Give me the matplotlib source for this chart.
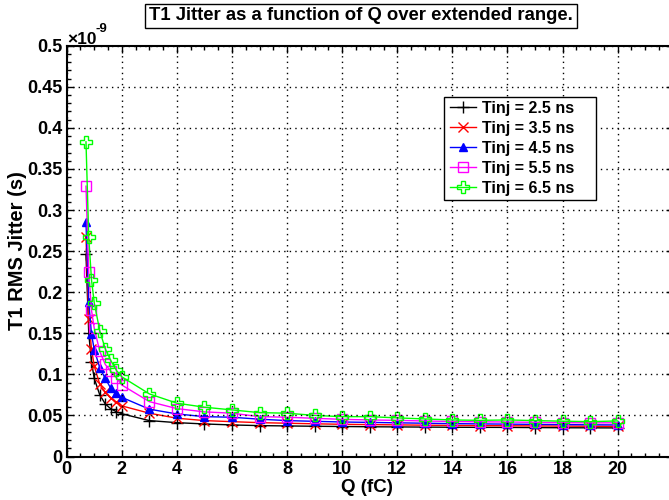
import matplotlib
matplotlib.use("Agg")
import matplotlib.pyplot as plt
from matplotlib.ticker import MultipleLocator, FuncFormatter
from matplotlib.patches import Rectangle

plt.rcParams['font.family'] = ['Liberation Sans', 'DejaVu Sans']
plt.rcParams['font.weight'] = 'bold'

# Charge values (fC)
q = [0.7, 0.8, 0.9, 1.0, 1.2, 1.4, 1.6, 1.8, 2.0,
     3, 4, 5, 6, 7, 8, 9, 10, 11, 12, 13, 14, 15, 16, 17, 18, 19, 20]

# RMS jitter values in units of 1e-9 s
jit_25 = [0.246, 0.150, 0.115, 0.095, 0.075, 0.064, 0.058, 0.0546, 0.052,
          0.0437, 0.0412, 0.0396, 0.0384, 0.0376, 0.0372, 0.0368, 0.0365, 0.0362,
          0.0360, 0.0358, 0.0356, 0.0355, 0.0354, 0.0352, 0.0350, 0.0349, 0.0348]
jit_35 = [0.267, 0.167, 0.131, 0.110, 0.088, 0.078, 0.071, 0.066, 0.0616,
          0.0527, 0.0466, 0.0437, 0.0424, 0.0412, 0.0405, 0.0398, 0.0392, 0.0388,
          0.0385, 0.0381, 0.0378, 0.0376, 0.0374, 0.0372, 0.0370, 0.0368, 0.0366]
jit_45 = [0.285, 0.188, 0.149, 0.130, 0.108, 0.095, 0.083, 0.077, 0.072,
          0.0576, 0.0518, 0.0485, 0.0478, 0.0454, 0.0437, 0.0428, 0.0420, 0.0415,
          0.0410, 0.0405, 0.0400, 0.0397, 0.0394, 0.0391, 0.0388, 0.0386, 0.0384]
jit_55 = [0.329, 0.224, 0.178, 0.156, 0.128, 0.112, 0.104, 0.096, 0.087,
          0.0668, 0.0583, 0.0543, 0.0527, 0.0485, 0.0478, 0.0465, 0.0452, 0.0445,
          0.0440, 0.0432, 0.0426, 0.0422, 0.0420, 0.0416, 0.0412, 0.0410, 0.0410]
jit_65 = [0.383, 0.267, 0.215, 0.187, 0.153, 0.131, 0.117, 0.105, 0.097,
          0.0762, 0.0649, 0.0600, 0.0567, 0.0534, 0.0527, 0.0500, 0.0485, 0.0485,
          0.0470, 0.0457, 0.0445, 0.0440, 0.0445, 0.0437, 0.0430, 0.0424, 0.0433]

labels = ['Tinj = 2.5 ns', 'Tinj = 3.5 ns', 'Tinj = 4.5 ns', 'Tinj = 5.5 ns', 'Tinj = 6.5 ns']
series = [jit_25, jit_35, jit_45, jit_55, jit_65]
colors = ['#000000', '#ff0000', '#0000ff', '#ff00ff', '#00ff00']
markers = ['+', 'x', '^', 's', 'P']
mfc = ['#000000', '#ff0000', '#0000ff', 'none', 'none']
msizes = [8, 7, 6, 7, 8]

xticks = [0, 2, 4, 6, 8, 10, 12, 14, 16, 18, 20]
yticks = [0, 0.05, 0.1, 0.15, 0.2, 0.25, 0.3, 0.35, 0.4, 0.45, 0.5]

W, H = 669, 500
fig = plt.figure(figsize=(W / 100, H / 100), dpi=100)
ax = fig.add_axes([66.7 / W, 1 - 456.5 / H, (672.8 - 66.7) / W, (456.5 - 45.7) / H])

for y, lab, c, m, fc, ms in zip(series, labels, colors, markers, mfc, msizes):
    ax.plot(q, y, color=c, marker=m, markerfacecolor=fc, markeredgecolor=c,
            markersize=ms, markeredgewidth=1.0, linewidth=1.0, label=lab)

ax.set_xlim(0, 22)
ax.set_ylim(0, 0.5)
ax.set_xticks(xticks)
ax.set_yticks(yticks)
ax.xaxis.set_minor_locator(MultipleLocator(0.5))
ax.yaxis.set_minor_locator(MultipleLocator(0.01))
ax.yaxis.set_major_formatter(FuncFormatter(lambda v, p: '%g' % v))
ax.tick_params(which='both', direction='in', top=True, right=True, width=1.0)
ax.tick_params(which='major', length=5, labelsize=13, pad=3)
ax.tick_params(which='minor', length=3)
for lbl in ax.get_xticklabels() + ax.get_yticklabels():
    lbl.set_fontweight('bold')
for s in ax.spines.values():
    s.set_linewidth(1.5)
ax.grid(True, which='major', color='black', linestyle=(0, (1, 3)), linewidth=1.0)
ax.set_axisbelow(False)

# legend frame drawn as a rectangle in figure pixels
frame = Rectangle((444 / W, 1 - 200 / H), (596 - 444) / W, (200 - 97) / H,
                  transform=fig.transFigure, facecolor='white',
                  edgecolor='black', linewidth=1.0, zorder=8, clip_on=False)
ax.add_artist(frame)
leg = ax.legend(loc='upper left', bbox_to_anchor=(446 / W, 1 - 97 / H),
                bbox_transform=fig.transFigure, frameon=False,
                prop={'weight': 'bold', 'size': 11.5},
                handlelength=1.65, borderpad=0.25, labelspacing=0.31, handletextpad=0.35,
                borderaxespad=0)
leg.set_zorder(9)

fig.text(18 / W, 1 - 251 / H, 'T1 RMS Jitter (s)', rotation=90, ha='center', va='center',
         fontsize=14.5, fontweight='bold')
fig.text(367 / W, 1 - 487 / H, 'Q (fC)', ha='center', va='center',
         fontsize=13.5, fontweight='bold')
fig.text(67 / W, 1 - 44 / H, '\u00d710', ha='left', va='baseline',
         fontsize=12.5, fontweight='bold')
fig.text(95 / W, 1 - 32 / H, '-9', ha='left', va='baseline',
         fontsize=9.5, fontweight='bold')
fig.text(361 / W, 1 - 16 / H, 'T1 Jitter as a function of Q over extended range.',
         ha='center', va='center', fontsize=13.3, fontweight='bold',
         bbox=dict(boxstyle='square,pad=0.2', facecolor='white', edgecolor='black', linewidth=1.0))

fig.savefig('out.png', dpi=100)
